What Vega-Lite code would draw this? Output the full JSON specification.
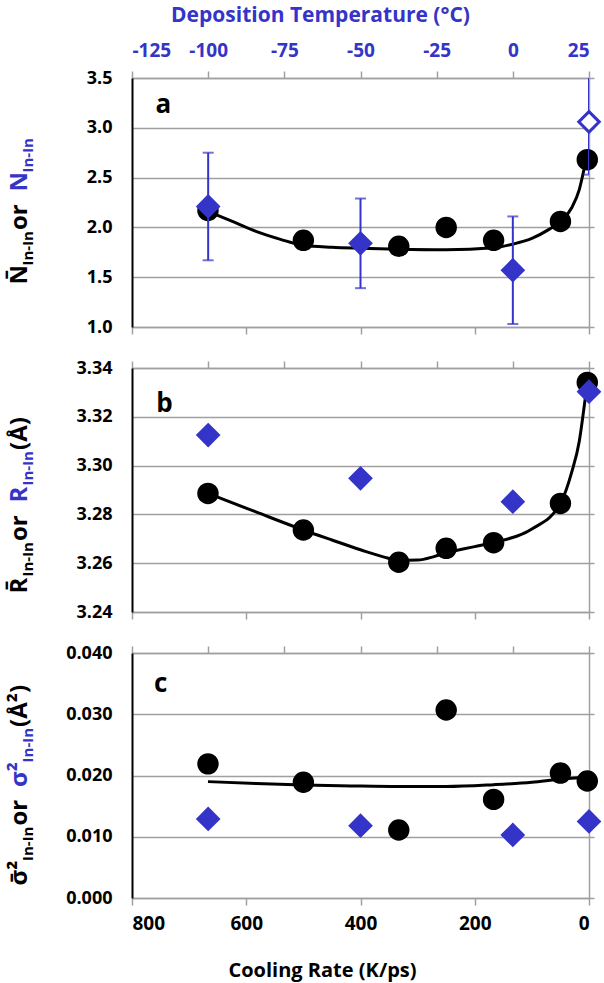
{
  "$schema": "https://vega.github.io/schema/vega-lite/v6.json",
  "padding": {"left": 7, "top": 4, "right": 0, "bottom": 10},
  "bounds": "flush",
  "spacing": 41,
  "config": {
    "view": {"stroke": null},
    "font": "Open Sans",
    "axis": {"labelFont": "Open Sans", "titleFont": "Open Sans", "labelFontWeight": "bold", "titleFontWeight": "bold"}
  },
  "datasets": {
    "circles": [
      {"rate": 667, "N": 2.17, "R": 3.2886, "S": 0.0219},
      {"rate": 500, "N": 1.87, "R": 3.2736, "S": 0.0189},
      {"rate": 333, "N": 1.81, "R": 3.2604, "S": 0.0111},
      {"rate": 250, "N": 2.0, "R": 3.2661, "S": 0.0307},
      {"rate": 167, "N": 1.87, "R": 3.2684, "S": 0.0161},
      {"rate": 50, "N": 2.06, "R": 3.2845, "S": 0.0204},
      {"rate": 3, "N": 2.68, "R": 3.3341, "S": 0.0191}
    ],
    "diamonds": [
      {"temp": -100, "N": 2.21, "lo": 1.67, "hi": 2.75, "R": 3.3125, "S": 0.0129},
      {"temp": -50, "N": 1.84, "lo": 1.39, "hi": 2.29, "R": 3.2948, "S": 0.0118},
      {"temp": 0, "N": 1.57, "lo": 1.03, "hi": 2.11, "R": 3.2852, "S": 0.0103},
      {"temp": 25, "N": 3.06, "lo": 2.53, "hi": 3.59, "R": 3.3303, "S": 0.0125}
    ],
    "fitN": [
      {"rate": 667, "v": 2.16}, {"rate": 620, "v": 2.05}, {"rate": 583, "v": 1.96},
      {"rate": 540, "v": 1.88}, {"rate": 500, "v": 1.82}, {"rate": 450, "v": 1.8},
      {"rate": 400, "v": 1.79}, {"rate": 333, "v": 1.78}, {"rate": 250, "v": 1.775},
      {"rate": 167, "v": 1.795}, {"rate": 125, "v": 1.845}, {"rate": 100, "v": 1.89},
      {"rate": 70, "v": 1.98}, {"rate": 50, "v": 2.06}, {"rate": 30, "v": 2.2},
      {"rate": 17, "v": 2.38}, {"rate": 8, "v": 2.6}, {"rate": 4, "v": 2.7}
    ],
    "fitR": [
      {"rate": 667, "v": 3.2886}, {"rate": 583, "v": 3.281}, {"rate": 500, "v": 3.2736},
      {"rate": 450, "v": 3.2695}, {"rate": 400, "v": 3.2655}, {"rate": 360, "v": 3.2626},
      {"rate": 333, "v": 3.2612}, {"rate": 300, "v": 3.2613}, {"rate": 270, "v": 3.2628},
      {"rate": 250, "v": 3.2642}, {"rate": 200, "v": 3.2668}, {"rate": 167, "v": 3.2685},
      {"rate": 100, "v": 3.274}, {"rate": 50, "v": 3.2845}, {"rate": 30, "v": 3.2975},
      {"rate": 17, "v": 3.31}, {"rate": 8, "v": 3.325}, {"rate": 3, "v": 3.334}
    ],
    "fitS": [
      {"rate": 667, "v": 0.019}, {"rate": 583, "v": 0.0187}, {"rate": 500, "v": 0.01845},
      {"rate": 417, "v": 0.0183}, {"rate": 333, "v": 0.0182}, {"rate": 250, "v": 0.0182},
      {"rate": 167, "v": 0.0185}, {"rate": 100, "v": 0.0189}, {"rate": 50, "v": 0.0194},
      {"rate": 3, "v": 0.0197}
    ]
  },
  "vconcat": [
    {
      "width": 457, "height": 249,
      "resolve": {"scale": {"x": "independent", "y": "shared"}, "axis": {"x": "independent", "y": "independent"}},
      "layer": [
        {
          "data": {"name": "fitN"},
          "mark": {"type": "line", "color": "black", "strokeWidth": 3, "interpolate": "monotone"},
          "encoding": {
            "x": {"field": "rate", "type": "quantitative", "scale": {"domain": [800, 0], "nice": false, "zero": false},
              "axis": {"orient": "bottom", "values": [800, 600, 400, 200, 0], "labels": false, "tickSize": 7, "tickWidth": 1.5, "tickColor": "#A0A0A0", "domainColor": "#A0A0A0", "domainWidth": 1.5, "grid": false, "title": null}},
            "y": {"field": "v", "type": "quantitative", "scale": {"domain": [1, 3.5], "nice": false, "zero": false},
              "axis": {"orient": "left", "values": [1, 1.5, 2, 2.5, 3, 3.5], "format": ".1f", "labelFontSize": 18, "labelColor": "black", "labelPadding": 20, "ticks": false, "domainColor": "black", "domainWidth": 2, "grid": true, "gridColor": "#A0A0A0", "gridWidth": 1.5,
                "title": "N\u0304", "titleFontSize": 24, "titleColor": "black", "titleAngle": -90, "titleAlign": "left", "titleBaseline": "alphabetic", "titleX": -106, "titleY": 206}}
          }
        },
        {
          "data": {"name": "circles"},
          "mark": {"type": "circle", "color": "black", "opacity": 1, "size": 460},
          "encoding": {
            "x": {"field": "rate", "type": "quantitative", "scale": {"domain": [800, 0], "nice": false, "zero": false}, "axis": null},
            "y": {"field": "N", "type": "quantitative", "scale": {"domain": [1, 3.5], "nice": false, "zero": false},
              "axis": {"orient": "left", "labels": false, "ticks": false, "domain": false, "grid": false, "title": "In-In", "titleFontSize": 15, "titleColor": "black", "titleAngle": -90, "titleAlign": "left", "titleBaseline": "alphabetic", "titleX": -100, "titleY": 187}}
          }
        },
        {
          "data": {"name": "diamonds"},
          "mark": {"type": "rule", "color": "#3434C8", "strokeWidth": 2, "clip": true},
          "encoding": {
            "x": {"field": "temp", "type": "quantitative", "scale": {"domain": [-125, 25], "nice": false, "zero": false}, "axis": null},
            "y": {"field": "lo", "type": "quantitative", "scale": {"domain": [1, 3.5], "nice": false, "zero": false},
              "axis": {"orient": "left", "labels": false, "ticks": false, "domain": false, "grid": false, "title": "\u00a0or\u00a0", "titleFontSize": 24, "titleColor": "black", "titleAngle": -90, "titleAlign": "left", "titleBaseline": "alphabetic", "titleX": -106, "titleY": 151.5}},
            "y2": {"field": "hi"}
          }
        },
        {
          "data": {"name": "diamonds"},
          "transform": [{"fold": ["lo", "hi"], "as": ["end", "bound"]}],
          "mark": {"type": "tick", "orient": "horizontal", "color": "#3434C8", "size": 11, "thickness": 2, "clip": true},
          "encoding": {
            "x": {"field": "temp", "type": "quantitative", "scale": {"domain": [-125, 25], "nice": false, "zero": false}, "axis": null},
            "y": {"field": "bound", "type": "quantitative", "scale": {"domain": [1, 3.5], "nice": false, "zero": false},
              "axis": {"orient": "left", "labels": false, "ticks": false, "domain": false, "grid": false, "title": "N", "titleFontSize": 24, "titleColor": "#3434C8", "titleAngle": -90, "titleAlign": "left", "titleBaseline": "alphabetic", "titleX": -106, "titleY": 113}}
          }
        },
        {
          "data": {"name": "diamonds"},
          "mark": {"type": "point", "shape": "diamond", "filled": true, "size": 420, "stroke": "#3434C8", "strokeWidth": 3, "opacity": 1},
          "encoding": {
            "x": {"field": "temp", "type": "quantitative", "scale": {"domain": [-125, 25], "nice": false, "zero": false},
              "axis": {"orient": "top", "values": [-125, -100, -75, -50, -25, 0, 25], "labelExpr": "(datum.value < 0 ? '-' : '') + abs(datum.value)", "labelFontSize": 19, "labelColor": "#3434C8", "labelPadding": 11, "tickSize": 7, "tickWidth": 1.5, "tickColor": "#A0A0A0", "domainColor": "#A0A0A0", "domainWidth": 1.5, "grid": false,
                "title": "Deposition Temperature (°C)", "titleFontSize": 21, "titleColor": "#3434C8", "titleAngle": 0, "titleAlign": "center", "titleBaseline": "alphabetic", "titleX": 188, "titleY": -57}},
            "y": {"field": "N", "type": "quantitative", "scale": {"domain": [1, 3.5], "nice": false, "zero": false},
              "axis": {"orient": "left", "labels": false, "ticks": false, "domain": false, "grid": false, "title": "In-In", "titleFontSize": 15, "titleColor": "#3434C8", "titleAngle": -90, "titleAlign": "left", "titleBaseline": "alphabetic", "titleX": -100, "titleY": 94}},
            "fill": {"condition": {"test": "datum.temp == 25", "value": "white"}, "value": "#3434C8"}
          }
        },
        {
          "data": {"values": [{"label": "a"}]},
          "mark": {"type": "text", "font": "Open Sans", "fontSize": 26, "fontWeight": "bold", "align": "center", "baseline": "alphabetic", "color": "black"},
          "encoding": {
            "text": {"field": "label"},
            "x": {"datum": 745, "type": "quantitative", "scale": {"domain": [800, 0], "nice": false, "zero": false}, "axis": null},
            "y": {"datum": 3.15, "type": "quantitative", "scale": {"domain": [1, 3.5], "nice": false, "zero": false},
              "axis": {"orient": "right", "values": [1, 1.5, 2, 2.5, 3, 3.5], "labels": false, "tickSize": 5, "tickWidth": 1.5, "tickColor": "#A0A0A0", "domainColor": "#A0A0A0", "domainWidth": 1.5, "grid": false, "title": null}}
          }
        }
      ]
    },
    {
      "width": 457, "height": 244,
      "resolve": {"scale": {"x": "independent", "y": "shared"}, "axis": {"x": "independent", "y": "independent"}},
      "layer": [
        {
          "data": {"name": "fitR"},
          "mark": {"type": "line", "color": "black", "strokeWidth": 3, "interpolate": "monotone"},
          "encoding": {
            "x": {"field": "rate", "type": "quantitative", "scale": {"domain": [800, 0], "nice": false, "zero": false},
              "axis": {"orient": "bottom", "values": [800, 600, 400, 200, 0], "labels": false, "tickSize": 7, "tickWidth": 1.5, "tickColor": "#A0A0A0", "domainColor": "#A0A0A0", "domainWidth": 1.5, "grid": false, "title": null}},
            "y": {"field": "v", "type": "quantitative", "scale": {"domain": [3.24, 3.34], "nice": false, "zero": false},
              "axis": {"orient": "left", "values": [3.24, 3.26, 3.28, 3.3, 3.32, 3.34], "format": ".2f", "labelFontSize": 18, "labelColor": "black", "labelPadding": 20, "ticks": false, "domainColor": "black", "domainWidth": 2, "grid": true, "gridColor": "#A0A0A0", "gridWidth": 1.5,
                "title": "R\u0304", "titleFontSize": 24, "titleColor": "black", "titleAngle": -90, "titleAlign": "left", "titleBaseline": "alphabetic", "titleX": -106, "titleY": 225}}
          }
        },
        {
          "data": {"name": "circles"},
          "mark": {"type": "circle", "color": "black", "opacity": 1, "size": 460},
          "encoding": {
            "x": {"field": "rate", "type": "quantitative", "scale": {"domain": [800, 0], "nice": false, "zero": false}, "axis": null},
            "y": {"field": "R", "type": "quantitative", "scale": {"domain": [3.24, 3.34], "nice": false, "zero": false},
              "axis": {"orient": "left", "labels": false, "ticks": false, "domain": false, "grid": false, "title": "In-In", "titleFontSize": 15, "titleColor": "black", "titleAngle": -90, "titleAlign": "left", "titleBaseline": "alphabetic", "titleX": -100, "titleY": 208}}
          }
        },
        {
          "data": {"name": "diamonds"},
          "mark": {"type": "point", "shape": "diamond", "filled": true, "size": 420, "color": "#3434C8", "stroke": "#3434C8", "strokeWidth": 3, "opacity": 1},
          "encoding": {
            "x": {"field": "temp", "type": "quantitative", "scale": {"domain": [-125, 25], "nice": false, "zero": false},
              "axis": {"orient": "top", "values": [-125, -100, -75, -50, -25, 0, 25], "labels": false, "tickSize": 7, "tickWidth": 1.5, "tickColor": "#A0A0A0", "domainColor": "#A0A0A0", "domainWidth": 1.5, "grid": false, "title": null}},
            "y": {"field": "R", "type": "quantitative", "scale": {"domain": [3.24, 3.34], "nice": false, "zero": false},
              "axis": {"orient": "left", "labels": false, "ticks": false, "domain": false, "grid": false, "title": "\u00a0or\u00a0", "titleFontSize": 24, "titleColor": "black", "titleAngle": -90, "titleAlign": "left", "titleBaseline": "alphabetic", "titleX": -106, "titleY": 172.5}}
          }
        },
        {
          "mark": {"type": "rule", "opacity": 0},
          "encoding": {
            "y": {"datum": 3.3, "type": "quantitative", "scale": {"domain": [3.24, 3.34], "nice": false, "zero": false},
              "axis": {"orient": "left", "labels": false, "ticks": false, "domain": false, "grid": false, "title": "R", "titleFontSize": 24, "titleColor": "#3434C8", "titleAngle": -90, "titleAlign": "left", "titleBaseline": "alphabetic", "titleX": -106, "titleY": 134}}
          }
        },
        {
          "mark": {"type": "rule", "opacity": 0},
          "encoding": {
            "y": {"datum": 3.3, "type": "quantitative", "scale": {"domain": [3.24, 3.34], "nice": false, "zero": false},
              "axis": {"orient": "left", "labels": false, "ticks": false, "domain": false, "grid": false, "title": "In-In", "titleFontSize": 15, "titleColor": "#3434C8", "titleAngle": -90, "titleAlign": "left", "titleBaseline": "alphabetic", "titleX": -100, "titleY": 117}}
          }
        },
        {
          "mark": {"type": "rule", "opacity": 0},
          "encoding": {
            "y": {"datum": 3.3, "type": "quantitative", "scale": {"domain": [3.24, 3.34], "nice": false, "zero": false},
              "axis": {"orient": "left", "labels": false, "ticks": false, "domain": false, "grid": false, "title": "\u00a0(Å)", "titleFontSize": 24, "titleColor": "black", "titleAngle": -90, "titleAlign": "left", "titleBaseline": "alphabetic", "titleX": -106, "titleY": 81.5}}
          }
        },
        {
          "data": {"values": [{"label": "b"}]},
          "mark": {"type": "text", "font": "Open Sans", "fontSize": 26, "fontWeight": "bold", "align": "center", "baseline": "alphabetic", "color": "black"},
          "encoding": {
            "text": {"field": "label"},
            "x": {"datum": 743, "type": "quantitative", "scale": {"domain": [800, 0], "nice": false, "zero": false}, "axis": null},
            "y": {"datum": 3.322, "type": "quantitative", "scale": {"domain": [3.24, 3.34], "nice": false, "zero": false},
              "axis": {"orient": "right", "values": [3.24, 3.26, 3.28, 3.3, 3.32, 3.34], "labels": false, "tickSize": 5, "tickWidth": 1.5, "tickColor": "#A0A0A0", "domainColor": "#A0A0A0", "domainWidth": 1.5, "grid": false, "title": null}}
          }
        }
      ]
    },
    {
      "width": 457, "height": 245,
      "resolve": {"scale": {"x": "independent", "y": "shared"}, "axis": {"x": "independent", "y": "independent"}},
      "layer": [
        {
          "data": {"name": "fitS"},
          "mark": {"type": "line", "color": "black", "strokeWidth": 3, "interpolate": "monotone"},
          "encoding": {
            "x": {"field": "rate", "type": "quantitative", "scale": {"domain": [800, 0], "nice": false, "zero": false},
              "axis": {"orient": "bottom", "values": [800, 600, 400, 200, 0], "labelFontSize": 19, "labelColor": "black", "labelPadding": 9, "tickSize": 7, "tickWidth": 1.5, "tickColor": "#A0A0A0", "domainColor": "#A0A0A0", "domainWidth": 1.5, "grid": false,
                "title": "Cooling Rate (K/ps)", "titleFontSize": 20, "titleColor": "black", "titleAlign": "center", "titleBaseline": "alphabetic", "titleX": 190, "titleY": 78}},
            "y": {"field": "v", "type": "quantitative", "scale": {"domain": [0, 0.04], "nice": false, "zero": false},
              "axis": {"orient": "left", "values": [0, 0.01, 0.02, 0.03, 0.04], "format": ".3f", "labelFontSize": 18, "labelColor": "black", "labelPadding": 20, "ticks": false, "domainColor": "black", "domainWidth": 2, "grid": true, "gridColor": "#A0A0A0", "gridWidth": 1.5,
                "title": "σ\u0304²", "titleFontSize": 24, "titleColor": "black", "titleAngle": -90, "titleAlign": "left", "titleBaseline": "alphabetic", "titleX": -106, "titleY": 232}}
          }
        },
        {
          "data": {"name": "circles"},
          "mark": {"type": "circle", "color": "black", "opacity": 1, "size": 460},
          "encoding": {
            "x": {"field": "rate", "type": "quantitative", "scale": {"domain": [800, 0], "nice": false, "zero": false}, "axis": null},
            "y": {"field": "S", "type": "quantitative", "scale": {"domain": [0, 0.04], "nice": false, "zero": false},
              "axis": {"orient": "left", "labels": false, "ticks": false, "domain": false, "grid": false, "title": "In-In", "titleFontSize": 15, "titleColor": "black", "titleAngle": -90, "titleAlign": "left", "titleBaseline": "alphabetic", "titleX": -100, "titleY": 207.5}}
          }
        },
        {
          "data": {"name": "diamonds"},
          "mark": {"type": "point", "shape": "diamond", "filled": true, "size": 420, "color": "#3434C8", "stroke": "#3434C8", "strokeWidth": 3, "opacity": 1},
          "encoding": {
            "x": {"field": "temp", "type": "quantitative", "scale": {"domain": [-125, 25], "nice": false, "zero": false},
              "axis": {"orient": "top", "values": [-125, -100, -75, -50, -25, 0, 25], "labels": false, "tickSize": 7, "tickWidth": 1.5, "tickColor": "#A0A0A0", "domainColor": "#A0A0A0", "domainWidth": 1.5, "grid": false, "title": null}},
            "y": {"field": "S", "type": "quantitative", "scale": {"domain": [0, 0.04], "nice": false, "zero": false},
              "axis": {"orient": "left", "labels": false, "ticks": false, "domain": false, "grid": false, "title": "\u00a0or\u00a0", "titleFontSize": 24, "titleColor": "black", "titleAngle": -90, "titleAlign": "left", "titleBaseline": "alphabetic", "titleX": -106, "titleY": 172}}
          }
        },
        {
          "mark": {"type": "rule", "opacity": 0},
          "encoding": {
            "y": {"datum": 0.02, "type": "quantitative", "scale": {"domain": [0, 0.04], "nice": false, "zero": false},
              "axis": {"orient": "left", "labels": false, "ticks": false, "domain": false, "grid": false, "title": "σ²", "titleFontSize": 24, "titleColor": "#3434C8", "titleAngle": -90, "titleAlign": "left", "titleBaseline": "alphabetic", "titleX": -106, "titleY": 133.4}}
          }
        },
        {
          "mark": {"type": "rule", "opacity": 0},
          "encoding": {
            "y": {"datum": 0.02, "type": "quantitative", "scale": {"domain": [0, 0.04], "nice": false, "zero": false},
              "axis": {"orient": "left", "labels": false, "ticks": false, "domain": false, "grid": false, "title": "In-In", "titleFontSize": 15, "titleColor": "#3434C8", "titleAngle": -90, "titleAlign": "left", "titleBaseline": "alphabetic", "titleX": -100, "titleY": 108.9}}
          }
        },
        {
          "mark": {"type": "rule", "opacity": 0},
          "encoding": {
            "y": {"datum": 0.02, "type": "quantitative", "scale": {"domain": [0, 0.04], "nice": false, "zero": false},
              "axis": {"orient": "left", "labels": false, "ticks": false, "domain": false, "grid": false, "title": "\u00a0(Å²)", "titleFontSize": 24, "titleColor": "black", "titleAngle": -90, "titleAlign": "left", "titleBaseline": "alphabetic", "titleX": -106, "titleY": 73.4}}
          }
        },
        {
          "data": {"values": [{"label": "c"}]},
          "mark": {"type": "text", "font": "Open Sans", "fontSize": 26, "fontWeight": "bold", "align": "center", "baseline": "alphabetic", "color": "black"},
          "encoding": {
            "text": {"field": "label"},
            "x": {"datum": 750, "type": "quantitative", "scale": {"domain": [800, 0], "nice": false, "zero": false}, "axis": null},
            "y": {"datum": 0.0336, "type": "quantitative", "scale": {"domain": [0, 0.04], "nice": false, "zero": false},
              "axis": {"orient": "right", "values": [0, 0.01, 0.02, 0.03, 0.04], "labels": false, "tickSize": 5, "tickWidth": 1.5, "tickColor": "#A0A0A0", "domainColor": "#A0A0A0", "domainWidth": 1.5, "grid": false, "title": null}}
          }
        }
      ]
    }
  ]
}
